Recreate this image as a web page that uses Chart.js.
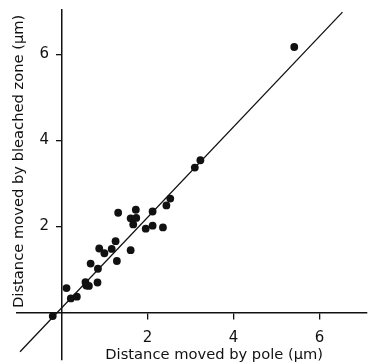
<!DOCTYPE html>
<html>
<head>
<meta charset="utf-8">
<script src="https://cdn.jsdelivr.net/npm/chart.js@4.4.1/dist/chart.umd.min.js"></script>
<style>
  html, body { margin: 0; padding: 0; background: #fff; }
</style>
</head>
<body>
<canvas id="poleChart" width="371" height="364"></canvas>
<script>
// Distance moved by pole vs distance moved by bleached zone (um)
const poleDist = [-0.20, 0.12, 0.22, 0.36, 0.56, 0.58, 0.64, 0.68, 0.84, 0.85, 0.88, 1.00, 1.17, 1.26, 1.29, 1.32,
                  1.61, 1.61, 1.67, 1.73, 1.74, 1.96, 2.12, 2.12, 2.36, 2.44, 2.53, 3.10, 3.23, 5.41];
const zoneDist = [-0.08, 0.57, 0.33, 0.37, 0.71, 0.63, 0.62, 1.14, 0.70, 1.02, 1.49, 1.38, 1.48, 1.66, 1.20, 2.32,
                  1.45, 2.19, 2.05, 2.39, 2.20, 1.95, 2.35, 2.02, 1.98, 2.49, 2.65, 3.37, 3.54, 6.17];

// end points of the fitted line
const fitX = [-0.96, 6.53];
const fitY = [-0.91, 6.98];

const xTicks = [2, 4, 6];
const yTicks = [2, 4, 6];
const xTitle = "Distance moved by pole (\u03bcm)";
const yTitle = "Distance moved by bleached zone (\u03bcm)";

const ink = "#111";
const fontFamily = "'DejaVu Sans', sans-serif";

// axis titles are centred on the positive half of each axis, like the original
const axisTitles = {
  id: "axisTitles",
  afterDraw(chart) {
    const { ctx, scales: { x, y } } = chart;
    ctx.save();
    ctx.fillStyle = ink;
    ctx.font = "14.7px " + fontFamily;
    ctx.textAlign = "center";
    ctx.textBaseline = "middle";
    ctx.fillText(xTitle, (x.getPixelForValue(0) + x.right) / 2, y.getPixelForValue(0) + 43);
    ctx.translate(x.left + 2, (y.top + y.getPixelForValue(0)) / 2);
    ctx.rotate(-Math.PI / 2);
    ctx.fillText(yTitle, 0, 0);
    ctx.restore();
  }
};

// keep the crossing axes from eating layout space
function noSpace(scale) {
  if (scale.isHorizontal()) scale.height = 0; else scale.width = 0;
  scale.paddingTop = 0;
  scale.paddingBottom = 0;
  scale.paddingLeft = 0;
  scale.paddingRight = 0;
}

const points = poleDist.map((v, i) => ({ x: v, y: zoneDist[i] }));
const fitLine = fitX.map((v, i) => ({ x: v, y: fitY[i] }));

new Chart(document.getElementById("poleChart").getContext("2d"), {
  type: "scatter",
  data: {
    datasets: [{
      data: points,
      backgroundColor: ink,
      borderWidth: 0,
      pointRadius: 3.9
    }, {
      type: "line",
      data: fitLine,
      borderColor: ink,
      borderWidth: 1.3,
      pointRadius: 0,
      fill: false,
      clip: false
    }]
  },
  options: {
    responsive: false,
    animation: false,
    layout: { padding: { left: 17, top: 10, right: 0, bottom: 0 } },
    plugins: { legend: { display: false }, tooltip: { enabled: false } },
    scales: {
      x: {
        type: "linear",
        min: -1.03,
        max: 7.1,
        position: { y: 0 },
        afterFit: noSpace,
        afterBuildTicks(scale) { scale.ticks = xTicks.map(v => ({ value: v })); },
        grid: { drawOnChartArea: false, drawTicks: true, tickLength: 6, color: ink, lineWidth: 1.3 },
        border: { color: ink, width: 1.5 },
        ticks: { color: ink, font: { family: fontFamily, size: 15 }, padding: 10, maxRotation: 0 }
      },
      y: {
        type: "linear",
        min: -1.1,
        max: 7.03,
        position: { x: 0 },
        afterFit: noSpace,
        afterBuildTicks(scale) { scale.ticks = yTicks.map(v => ({ value: v })); },
        grid: { drawOnChartArea: false, drawTicks: true, tickLength: 5, color: ink, lineWidth: 1.3 },
        border: { color: ink, width: 1.5 },
        // labels on a crossing axis sit right on the line, so pad them with spaces
        ticks: { color: ink, font: { family: fontFamily, size: 15 }, callback: v => v + "\u2002 " }
      }
    }
  },
  plugins: [axisTitles]
});
</script>
</body>
</html>
